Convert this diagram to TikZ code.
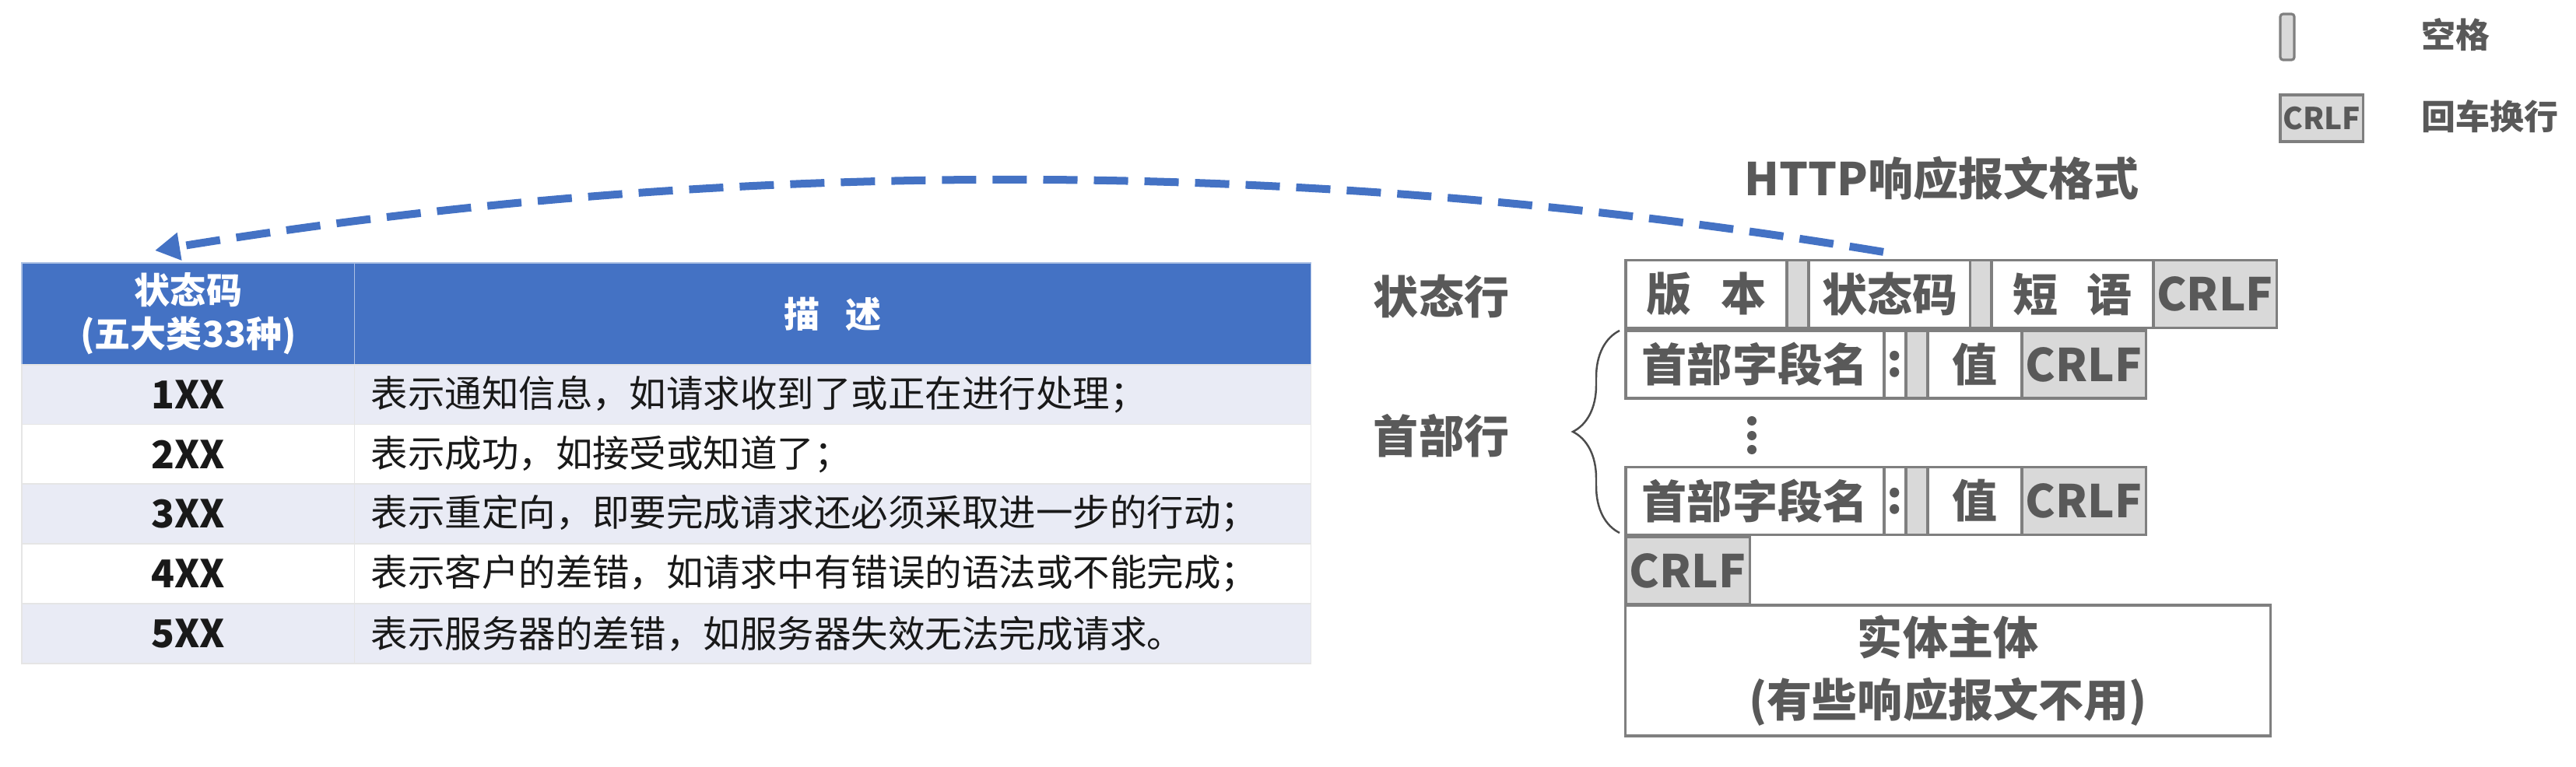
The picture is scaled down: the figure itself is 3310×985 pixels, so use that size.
\documentclass[tikz,border=0pt]{standalone}
\usepackage{fontspec}
\setmainfont{Noto Sans CJK SC}
\usetikzlibrary{arrows.meta,decorations.pathreplacing}

\definecolor{tblblue}{HTML}{4472C4}
\definecolor{bandfill}{HTML}{E9EBF5}
\definecolor{arrowblue}{HTML}{4472C4}
\definecolor{boxgray}{HTML}{D9D9D9}
\definecolor{boxline}{HTML}{7F7F7F}
\definecolor{boxtext}{HTML}{595959}

\begin{document}
\begin{tikzpicture}[x=0.01cm, y=-0.01cm,
  headcell/.style={rectangle, draw=white!55!tblblue, fill=tblblue, text=white, inner sep=0pt,
                   minimum height=1.31cm, align=center, font=\bfseries\fontsize{13.1pt}{15.9pt}\selectfont},
  cell/.style={rectangle, draw=black!10, fill=white, inner sep=0pt, minimum height=0.77cm,
               text=black!90, font=\bfseries\fontsize{14pt}{16pt}\selectfont},
  banded/.style={fill=bandfill},
  desctext/.style={anchor=west, inner sep=0pt, text=black!90, font=\fontsize{13.5pt}{16pt}\selectfont},
  fieldbox/.style={rectangle, draw=boxline, line width=0.9pt, fill=white, text=boxtext, inner sep=0pt,
                   minimum height=0.87cm, font=\bfseries\fontsize{16.5pt}{20pt}\selectfont},
  crlfbox/.style={fieldbox, fill=boxgray},
  spacebox/.style={fieldbox, fill=boxgray, minimum width=0.28cm},
  rowlabel/.style={text=boxtext, font=\bfseries\fontsize{16.5pt}{20pt}\selectfont},
  legendtext/.style={anchor=west, text=boxtext, font=\bfseries\fontsize{12.5pt}{15pt}\selectfont},
  jumparrow/.style={-{Triangle[length=0.32cm, width=0.34cm]}, draw=arrowblue, line width=0.1cm,
                    dash pattern=on 0.44cm off 0.21cm}
]
  \useasboundingbox (0,0) rectangle (3310,985);

  \node[headcell, minimum width=4.28cm]  (hcode) at (242,403.5)  {状态码\\(五大类33种)};
  \node[headcell, minimum width=12.28cm] (hdesc) at (1070,403.5) {描\hspace{0.7em}述};

  \node[cell, banded, minimum width=4.28cm]  (c1) at (242,507.5)  {1XX};
  \node[cell, banded, minimum width=12.28cm] (d1) at (1070,507.5) {};
  \node[cell, minimum width=4.28cm]          (c2) at (242,584)    {2XX};
  \node[cell, minimum width=12.28cm]         (d2) at (1070,584)   {};
  \node[cell, banded, minimum width=4.28cm]  (c3) at (242,660.5)  {3XX};
  \node[cell, banded, minimum width=12.28cm] (d3) at (1070,660.5) {};
  \node[cell, minimum width=4.28cm]          (c4) at (242,737.5)  {4XX};
  \node[cell, minimum width=12.28cm]         (d4) at (1070,737.5) {};
  \node[cell, banded, minimum width=4.28cm]  (c5) at (242,814.5)  {5XX};
  \node[cell, banded, minimum width=12.28cm] (d5) at (1070,814.5) {};

  \node[desctext] (t1) at ([xshift=0.21cm]d1.west) {表示通知信息，如请求收到了或正在进行处理；};
  \node[desctext] (t2) at ([xshift=0.21cm]d2.west) {表示成功，如接受或知道了；};
  \node[desctext] (t3) at ([xshift=0.21cm]d3.west) {表示重定向，即要完成请求还必须采取进一步的行动；};
  \node[desctext] (t4) at ([xshift=0.21cm]d4.west) {表示客户的差错，如请求中有错误的语法或不能完成；};
  \node[desctext] (t5) at ([xshift=0.21cm]d5.west) {表示服务器的差错，如服务器失效无法完成请求。};

  \node[rowlabel] (title) at (2495,229) {HTTP响应报文格式};
  \node[rowlabel] (lstatus) at (1852,381) {状态行};
  \node[rowlabel] (lheader) at (1852,560) {首部行};

  \node[fieldbox, minimum width=2.07cm] (ver)    at (2192.5,378) {版\hspace{0.65em}本};
  \node[spacebox]                       (sp1)    at (2310,378)   {};
  \node[fieldbox, minimum width=2.08cm] (code)   at (2428,378)   {状态码};
  \node[spacebox]                       (sp2)    at (2545.5,378) {};
  \node[fieldbox, minimum width=2.08cm] (phrase) at (2663,378)   {短\hspace{0.65em}语};
  \node[crlfbox, minimum width=1.58cm]  (crlf1)  at (2846,378)   {CRLF};

  \node[fieldbox, minimum width=3.32cm] (name1)  at (2255,468.5)   {首部字段名};
  \node[fieldbox, minimum width=0.28cm] (colon1) at (2435,468.5)   {:};
  \node[spacebox]                       (sp3)    at (2463,468.5)   {};
  \node[fieldbox, minimum width=1.21cm] (val1)   at (2537.5,468.5) {值};
  \node[crlfbox, minimum width=1.59cm]  (crlf2)  at (2677.5,468.5) {CRLF};

  \fill[boxtext] (2251,541) circle (0.06cm);
  \fill[boxtext] (2251,560) circle (0.06cm);
  \fill[boxtext] (2251,578) circle (0.06cm);

  \node[fieldbox, minimum width=3.32cm] (name2)  at (2255,644)   {首部字段名};
  \node[fieldbox, minimum width=0.28cm] (colon2) at (2435,644)   {:};
  \node[spacebox]                       (sp4)    at (2463,644)   {};
  \node[fieldbox, minimum width=1.21cm] (val2)   at (2537.5,644) {值};
  \node[crlfbox, minimum width=1.59cm]  (crlf3)  at (2677.5,644) {CRLF};

  \node[crlfbox, minimum width=1.59cm] (crlf4) at (2168.5,733.5) {CRLF};
  \node[fieldbox, minimum width=8.28cm, minimum height=1.68cm, align=center,
        font=\bfseries\fontsize{16.5pt}{22.8pt}\selectfont] (body) at (2503,862) {实体主体\\(有些响应报文不用)};

  \coordinate (brtop) at (2081,425);
  \coordinate (brbot) at (2081,685);
  \draw[decorate, decoration={brace, amplitude=0.6cm}, draw=black!70, line width=0.7pt] (brbot) -- (brtop);

  \node[spacebox, minimum width=0.18cm, minimum height=0.59cm, rounded corners=1pt] (legsp) at (2939,47.5) {};
  \node[legendtext] (legsptext) at (3099,45) {空格};
  \node[crlfbox, minimum width=1.06cm, minimum height=0.6cm,
        font=\bfseries\fontsize{11pt}{13pt}\selectfont] (legcrlf) at (2983,152) {CRLF};
  \node[legendtext] (legcrlftext) at (3099,150) {回车换行};

  \coordinate (arrend) at (199,322);
  \draw[jumparrow] ([xshift=-0.08cm, yshift=0.09cm]code.north) .. controls (1680,201) and (940,201) .. (arrend);
\end{tikzpicture}
\end{document}
